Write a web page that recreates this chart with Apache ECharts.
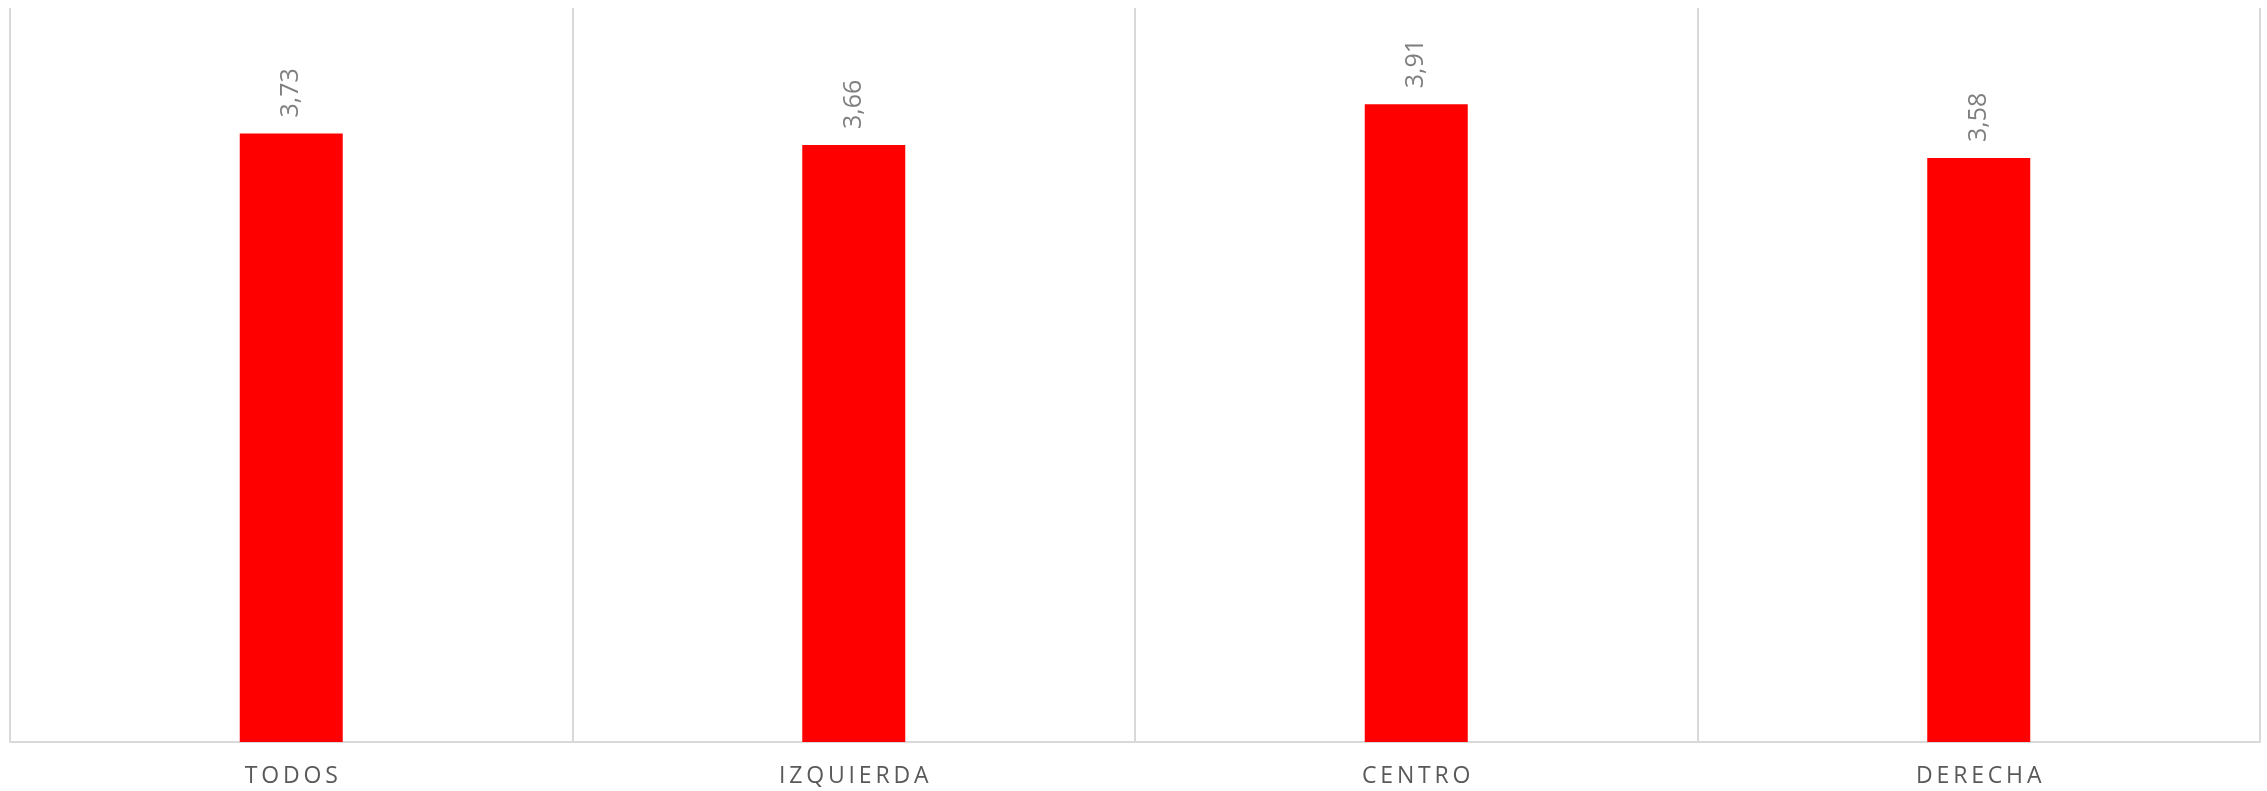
<!DOCTYPE html>
<html><head><meta charset="utf-8">
<script src="https://cdn.jsdelivr.net/npm/echarts@6/dist/echarts.min.js"></script>
<style>html,body{margin:0;padding:0;background:#fff}#c{width:2267px;height:791px}</style>
</head><body><div id="c"></div>
<script>
const categories = ['TODOS', 'IZQUIERDA', 'CENTRO', 'DERECHA'];
const values = [3.73, 3.66, 3.91, 3.58];
const yMin = 0, yMax = 4.5;

const chart = echarts.init(document.getElementById('c'));
chart.setOption({
  animation: false,
  grid: { left: 10, right: 7, top: 8, bottom: 49, containLabel: false },
  xAxis: {
    type: 'category', data: categories, boundaryGap: true,
    axisLine: { show: true, lineStyle: { color: '#d9d9d9', width: 2 } },
    axisTick: { show: false },
    splitLine: { show: true, lineStyle: { color: '#d9d9d9', width: 2 } },
    axisLabel: {
      color: '#595959', fontFamily: 'Open Sans', fontSize: 23, margin: 23,
      formatter: v => v.split('').join('\u2009')
    }
  },
  yAxis: {
    type: 'value', min: yMin, max: yMax, show: false,
    splitLine: { show: false }
  },
  series: [{
    type: 'bar', data: values, barWidth: 103,
    itemStyle: { color: '#ff0000' },
    label: {
      show: true, position: 'top', rotate: 90, distance: 16,
      align: 'left', verticalAlign: 'middle',
      color: '#7f7f7f', fontFamily: 'Open Sans', fontSize: 25,
      formatter: p => p.value.toFixed(2).replace('.', ',')
    }
  }]
});
</script></body></html>
